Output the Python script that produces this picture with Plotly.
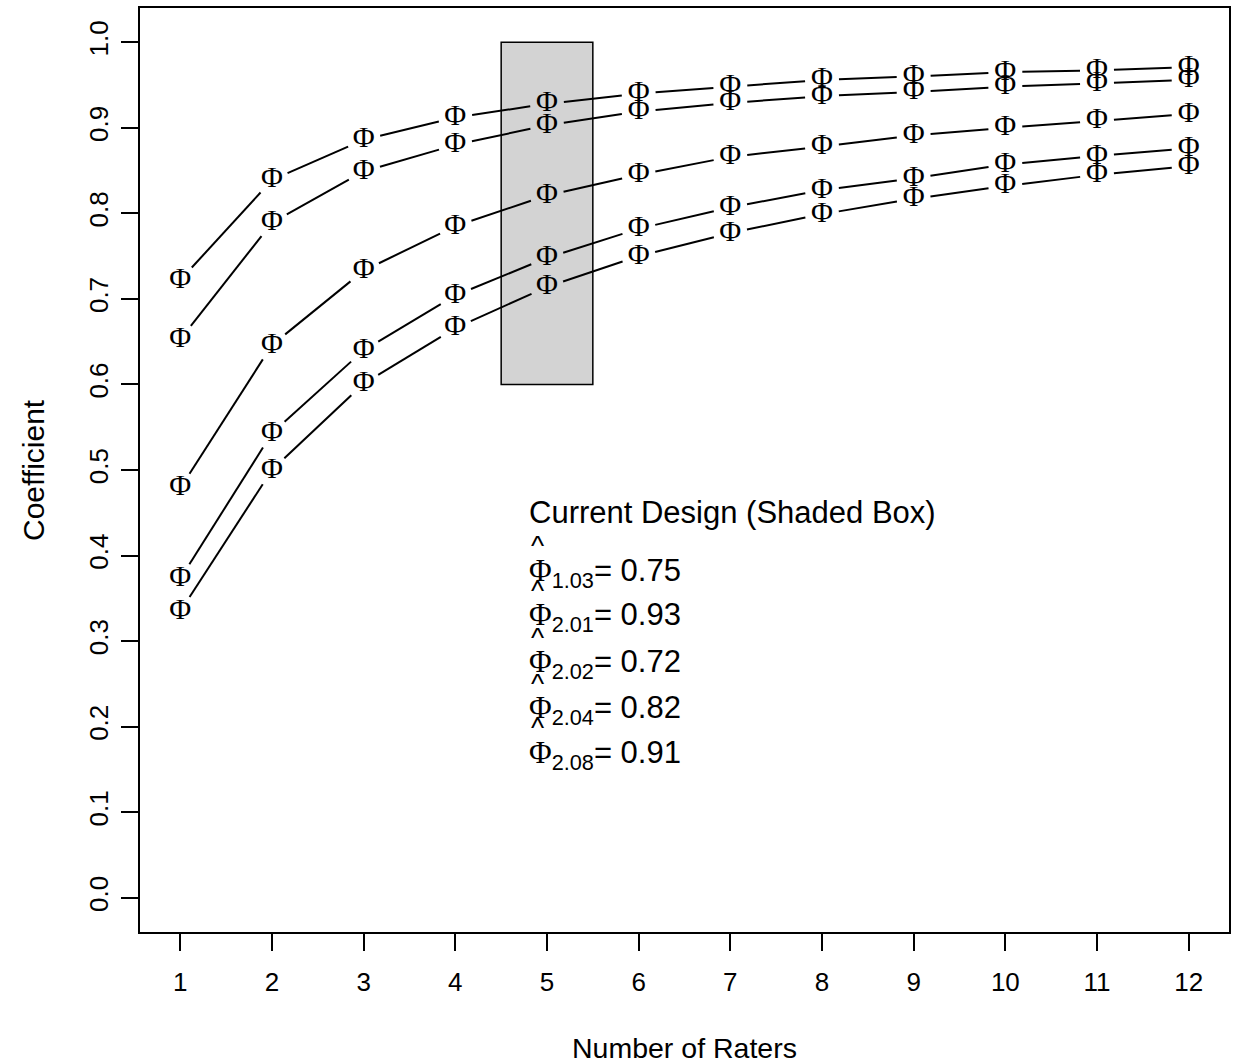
import math
import plotly.graph_objects as go

# ---- data ----
raters = list(range(1, 13))
phi_2_01 = [0.722, 0.839, 0.886, 0.912, 0.928, 0.940, 0.948, 0.956, 0.960, 0.965, 0.967, 0.971]
phi_2_08 = [0.653, 0.789, 0.849, 0.880, 0.903, 0.919, 0.929, 0.937, 0.942, 0.948, 0.952, 0.956]
phi_2_04 = [0.479, 0.646, 0.733, 0.785, 0.821, 0.845, 0.866, 0.878, 0.891, 0.900, 0.908, 0.916]
phi_1_03 = [0.373, 0.543, 0.640, 0.704, 0.748, 0.782, 0.807, 0.827, 0.841, 0.857, 0.867, 0.876]
phi_2_02 = [0.335, 0.500, 0.601, 0.666, 0.714, 0.750, 0.777, 0.799, 0.817, 0.832, 0.845, 0.855]
series = [phi_2_01, phi_2_08, phi_2_04, phi_1_03, phi_2_02]

design_labels = ["1.03", "2.01", "2.02", "2.04", "2.08"]
design_values = ["0.75", "0.93", "0.72", "0.82", "0.91"]
y_ticks = [0.0, 0.1, 0.2, 0.3, 0.4, 0.5, 0.6, 0.7, 0.8, 0.9, 1.0]
y_ticktext = ["0.0", "0.1", "0.2", "0.3", "0.4", "0.5", "0.6", "0.7", "0.8", "0.9", "1.0"]
current_raters = 5

# ---- layout geometry ----
W, H = 1234, 1063
ML, MR, MT, MB = 140, 3, 8, 131
x_range = [0.56, 12.44]
y_range = [-0.04, 1.04]
pw, ph = W - ML - MR, H - MT - MB
sx = pw / (x_range[1] - x_range[0])
sy = ph / (y_range[1] - y_range[0])
GAP = 17  # pixel gap around each point (R type="b")

SANS = "Liberation Sans, Arial, sans-serif"
SERIF = "Liberation Serif, Times New Roman, serif"


def gapped(xs, ys):
    lx, ly = [], []
    for i in range(len(xs) - 1):
        dx, dy = xs[i + 1] - xs[i], ys[i + 1] - ys[i]
        L = math.hypot(dx * sx, dy * sy)
        if L <= 2 * GAP:
            continue
        f = GAP / L
        lx += [xs[i] + dx * f, xs[i + 1] - dx * f, None]
        ly += [ys[i] + dy * f, ys[i + 1] - dy * f, None]
    return lx, ly


fig = go.Figure()
for ys in series:
    lx, ly = gapped(raters, ys)
    fig.add_trace(go.Scatter(x=lx, y=ly, mode="lines",
                             line=dict(color="black", width=2),
                             hoverinfo="skip", showlegend=False))
    fig.add_trace(go.Scatter(x=raters, y=ys, mode="text", text=["Φ"] * len(raters),
                             textposition="middle center",
                             textfont=dict(family=SERIF, size=30, color="black"),
                             showlegend=False))

# shaded box for current design
fig.add_shape(type="rect", x0=current_raters - 0.5, x1=current_raters + 0.5,
              y0=0.6, y1=1.0, fillcolor="#D3D3D3",
              line=dict(color="black", width=1.5), layer="below")

# annotation block
ann_x = 4.78
fig.add_annotation(x=ann_x, y=0.450, xref="x", yref="y", xanchor="left", yanchor="middle",
                   text="Current Design (Shaded Box)", showarrow=False,
                   font=dict(family=SANS, size=31, color="black"))
line_y = [0.380, 0.328, 0.273, 0.219, 0.167]
for lab, val, yy in zip(design_labels, design_values, line_y):
    fig.add_annotation(x=ann_x, y=yy, xref="x", yref="y", xanchor="left", yanchor="middle",
                       text=f"<span style='font-family:Liberation Serif'>Φ</span><sub>{lab}</sub>= {val}",
                       showarrow=False, font=dict(family=SANS, size=31, color="black"))
    fig.add_annotation(x=ann_x, y=yy, xref="x", yref="y", xanchor="left", yanchor="middle",
                       text="^", showarrow=False, xshift=2, yshift=27,
                       font=dict(family=SANS, size=28, color="black"))

# axis titles
fig.add_annotation(x=0.5, y=0, xref="paper", yref="paper", yanchor="middle",
                   yshift=-116, text="Number of Raters", showarrow=False,
                   font=dict(family=SANS, size=28.5, color="black"))
fig.add_annotation(x=0, y=0.5, xref="paper", yref="paper", xanchor="center",
                   xshift=-107, textangle=-90, text="Coefficient", showarrow=False,
                   font=dict(family=SANS, size=30, color="black"))

axis_common = dict(showline=True, mirror=True, linecolor="black", linewidth=2,
                   ticks="outside", ticklen=17, tickwidth=2, tickcolor="black",
                   showgrid=False, zeroline=False,
                   tickfont=dict(family=SANS, size=26, color="black"))
fig.update_xaxes(range=x_range, tickvals=raters, ticklabelstandoff=9, **axis_common)
fig.update_yaxes(range=y_range, tickvals=y_ticks, ticktext=y_ticktext,
                 tickangle=-90, ticklabelstandoff=3, **axis_common)

fig.update_layout(width=W, height=H, margin=dict(l=ML, r=MR, t=MT, b=MB),
                  plot_bgcolor="white", paper_bgcolor="white", showlegend=False)

fig.write_html("out.html")
